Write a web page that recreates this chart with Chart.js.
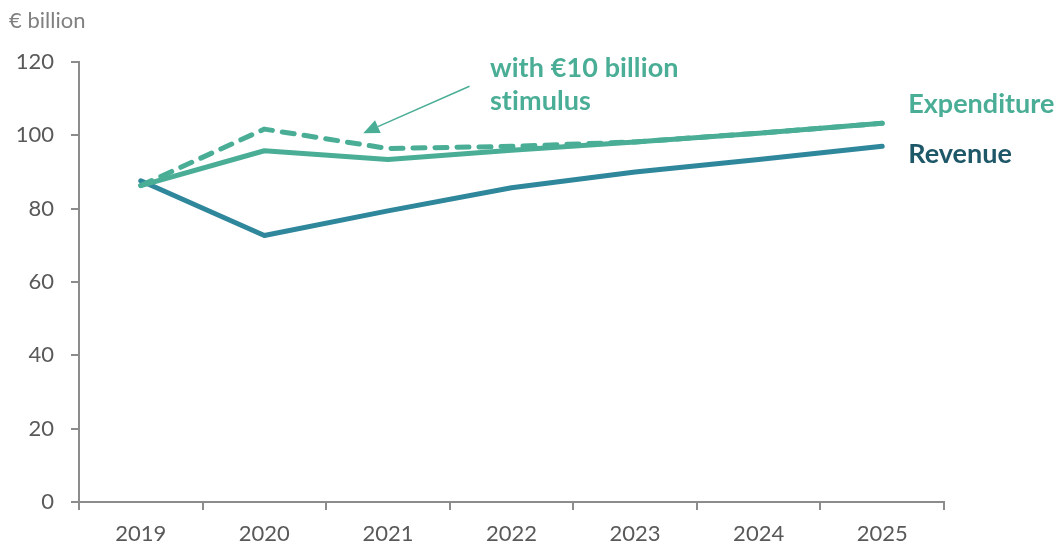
<!DOCTYPE html>
<html lang="en">
  <head>
    <meta charset="UTF-8" />
    <title>Revenue and expenditure</title>
    <style>
      html, body { margin: 0; padding: 0; background: #fff; }
      #wrap { width: 1056px; height: 548px; position: relative; }
    </style>
  </head>
  <body>
    <div id="wrap"><canvas id="myChart"></canvas></div>
  </body>
  <script src="https://cdn.jsdelivr.net/npm/chart.js"></script>
  <script>
    // Years and series, € billion
    let years = ["2019", "2020", "2021", "2022", "2023", "2024", "2025"];
    let expenditure = [86.3, 95.8, 93.4, 95.9, 98.2, 100.6, 103.3];
    let withStimulus = [86.3, 101.7, 96.4, 97.0, 98.2, 100.6, 103.3];
    let revenue = [87.6, 72.7, 79.4, 85.7, 90.0, 93.4, 97.0];
    let yTicks = [0, 20, 40, 60, 80, 100, 120];

    let green = "#4aae96";
    let blue = "#2f879c";
    let darkBlue = "#1e5868";
    let axisGrey = "#8c8c8c";
    let textGrey = "#595959";
    let fontFamily = "Lato, 'Noto Sans', sans-serif";

    // Labels at the line ends, the stimulus note and its arrow
    const annotations = {
      id: "annotations",
      afterDatasetsDraw(chart) {
        const ctx = chart.ctx;
        const x = chart.scales.x;
        const y = chart.scales.y;
        const last = years.length - 1;
        const endX = x.getPixelForValue(last) + 26;

        ctx.save();
        ctx.font = "bold 27px " + fontFamily;
        ctx.textBaseline = "middle";
        ctx.textAlign = "left";
        ctx.fillStyle = green;
        ctx.fillText("Expenditure", endX, y.getPixelForValue(expenditure[last]) - 19);
        ctx.fillStyle = darkBlue;
        ctx.fillText("Revenue", endX, y.getPixelForValue(revenue[last]) + 8);

        // note text (small spacing keeps "ti" from joining)
        ctx.letterSpacing = "0.1px";
        ctx.fillStyle = green;
        const noteX = x.getPixelForValue(2.825);
        ctx.fillText("with €10 billion", noteX, y.getPixelForValue(118.4));
        ctx.fillText("stimulus", noteX, y.getPixelForValue(109.2));
        ctx.letterSpacing = "0px";

        // arrow pointing at the dashed line
        const tx = x.getPixelForValue(1.8);
        const ty = y.getPixelForValue(100.6);
        const sx = x.getPixelForValue(2.66);
        const sy = y.getPixelForValue(113.4);
        const ang = Math.atan2(ty - sy, tx - sx);
        const headLen = 16;
        const headW = 7;
        const bx = tx - headLen * Math.cos(ang);
        const by = ty - headLen * Math.sin(ang);
        ctx.strokeStyle = green;
        ctx.lineWidth = 1.5;
        ctx.beginPath();
        ctx.moveTo(sx, sy);
        ctx.lineTo(bx, by);
        ctx.stroke();
        ctx.beginPath();
        ctx.moveTo(tx, ty);
        ctx.lineTo(bx + headW * Math.sin(ang), by - headW * Math.cos(ang));
        ctx.lineTo(bx - headW * Math.sin(ang), by + headW * Math.cos(ang));
        ctx.closePath();
        ctx.fill();

        // unit label
        ctx.font = "22px " + fontFamily;
        ctx.fillStyle = "#808080";
        ctx.textBaseline = "middle";
        ctx.fillText("€ billion", 9, 21);
        ctx.restore();
      },
    };

    var ctx = document.getElementById("myChart").getContext("2d");
    var chart = new Chart(ctx, {
      type: "line",
      data: {
        labels: years,
        datasets: [
          {
            label: "Expenditure",
            data: expenditure,
            borderColor: green,
            borderWidth: 5,
            borderCapStyle: "round",
            borderJoinStyle: "round",
          },
          {
            label: "With €10 billion stimulus",
            data: withStimulus,
            borderColor: green,
            borderWidth: 5,
            borderDash: [12, 10],
            borderCapStyle: "round",
            borderJoinStyle: "round",
          },
          {
            label: "Revenue",
            data: revenue,
            borderColor: blue,
            borderWidth: 5,
            borderCapStyle: "round",
            borderJoinStyle: "round",
          },
        ],
      },
      options: {
        responsive: true,
        maintainAspectRatio: false,
        animation: false,
        elements: {
          point: { radius: 0, hoverRadius: 0 },
          line: { tension: 0 },
        },
        layout: { padding: { top: 62, right: 112, left: 0, bottom: 0 } },
        plugins: {
          legend: { display: false },
          tooltip: { enabled: false },
        },
        scales: {
          x: {
            offset: true,
            grid: {
              offset: true,
              drawOnChartArea: false,
              drawTicks: true,
              tickLength: 8,
              color: axisGrey,
              lineWidth: 2,
            },
            border: { display: true, color: axisGrey, width: 2 },
            ticks: {
              color: textGrey,
              font: { family: fontFamily, size: 22 },
              padding: 11,
              maxRotation: 0,
            },
            afterFit(scale) {
              scale.height = 46;
            },
          },
          y: {
            min: 0,
            max: 120,
            afterBuildTicks(scale) {
              scale.ticks = yTicks.map((v) => ({ value: v }));
            },
            grid: {
              drawOnChartArea: false,
              drawTicks: true,
              tickLength: 8,
              color: axisGrey,
              lineWidth: 2,
            },
            border: { display: true, color: axisGrey, width: 2 },
            ticks: {
              color: textGrey,
              font: { family: fontFamily, size: 22 },
              padding: 17,
            },
            afterFit(scale) {
              scale.width = 79;
            },
          },
        },
      },
      plugins: [annotations],
    });
  </script>
</html>
